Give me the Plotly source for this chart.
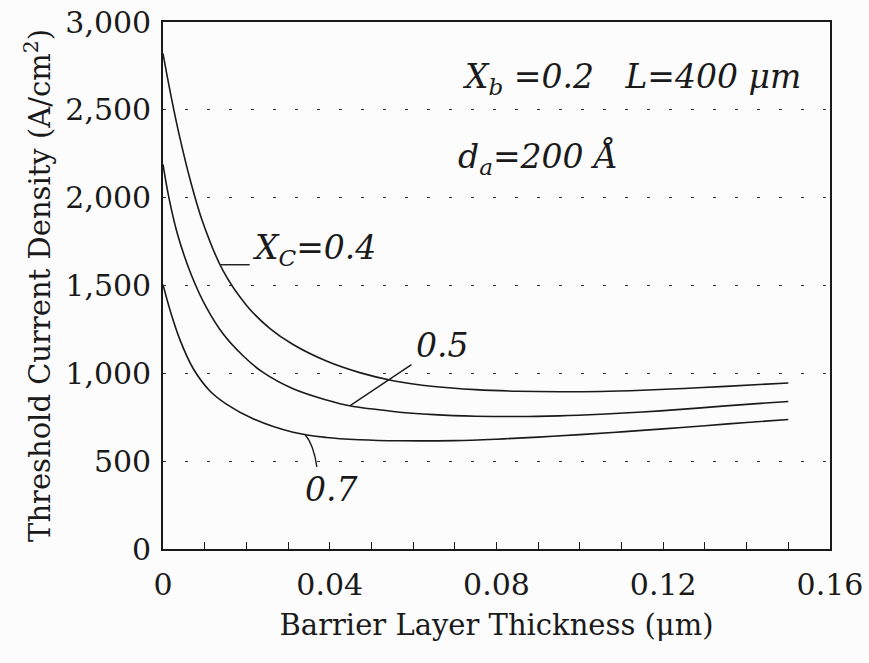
import numpy as np
import plotly.graph_objects as go

# Threshold current density vs. barrier layer thickness for three cladding compositions
x_04 = [0, 0.002, 0.004, 0.0065, 0.0095, 0.0144, 0.020, 0.0256, 0.0312, 0.0392, 0.0472,
        0.0552, 0.065, 0.075, 0.085, 0.095, 0.105, 0.115, 0.125, 0.135, 0.15]
y_04 = [2820, 2570, 2346, 2103, 1863, 1584, 1388, 1256, 1164, 1070, 1004,
        958, 925, 907, 898, 895, 897, 904, 914, 926, 945]

x_05 = [0, 0.0015, 0.0035, 0.0068, 0.0104, 0.0144, 0.0192, 0.024, 0.0312, 0.0392, 0.0448,
        0.0552, 0.065, 0.075, 0.085, 0.095, 0.105, 0.115, 0.125, 0.135, 0.15]
y_05 = [2190, 1990, 1790, 1560, 1375, 1225, 1100, 1005, 912, 848, 815,
        783, 765, 756, 754, 758, 767, 780, 796, 815, 840]

x_07 = [0, 0.002, 0.004, 0.0072, 0.0112, 0.0152, 0.0216, 0.0312, 0.0392, 0.0472, 0.0568,
        0.07, 0.08, 0.09, 0.10, 0.11, 0.12, 0.13, 0.14, 0.15]
y_07 = [1505, 1335, 1195, 1029, 901, 825, 742, 665, 635, 622, 616,
        617, 625, 637, 651, 667, 684, 702, 720, 737]

x_tickvals = [0, 0.04, 0.08, 0.12, 0.16]
x_ticktext = ["0", "0.04", "0.08", "0.12", "0.16"]
y_tickvals = [0, 500, 1000, 1500, 2000, 2500, 3000]

INK = "#1a1a1a"
SERIF = "DejaVu Serif"

fig = go.Figure()
for xs, ys, name in [(x_04, y_04, "0.4"), (x_05, y_05, "0.5"), (x_07, y_07, "0.7")]:
    fig.add_trace(go.Scatter(x=xs, y=ys, mode="lines", name=name,
                             line=dict(color=INK, width=1.6, shape="spline", smoothing=1.0),
                             showlegend=False, hoverinfo="skip"))

# leader lines from labels to curves
y_lead_04 = float(np.interp(0.0138, x_04, y_04))
fig.add_shape(type="line", x0=0.0138, y0=y_lead_04, x1=0.0208, y1=y_lead_04,
              line=dict(color=INK, width=1.4))
y_lead_05 = float(np.interp(0.0448, x_05, y_05))
fig.add_shape(type="line", x0=0.0448, y0=y_lead_05, x1=0.0596, y1=1050,
              line=dict(color=INK, width=1.4))
y_lead_07 = float(np.interp(0.034, x_07, y_07))
fig.add_shape(type="path",
              path=f"M 0.034,{y_lead_07} Q 0.0362,592 0.0369,467",
              line=dict(color=INK, width=1.4))

ann_font = dict(family=SERIF, size=33, color=INK)
fig.add_annotation(x=0.0712, y=2680, xref="x", yref="y", xanchor="left", yanchor="middle",
                   text="<i>X<sub>b</sub> =0.2 &nbsp; L=400 μm</i>", showarrow=False, font=ann_font)
fig.add_annotation(x=0.0703, y=2225, xref="x", yref="y", xanchor="left", yanchor="middle",
                   text="<i>d<sub>a</sub>=200 Å</i>", showarrow=False, font=ann_font)
fig.add_annotation(x=0.0208, y=1705, xref="x", yref="y", xanchor="left", yanchor="middle",
                   text="<i>X<sub>C</sub>=0.4</i>", showarrow=False, font=ann_font)
fig.add_annotation(x=0.0602, y=1161, xref="x", yref="y", xanchor="left", yanchor="middle",
                   text="<i>0.5</i>", showarrow=False, font=ann_font)
fig.add_annotation(x=0.0336, y=336, xref="x", yref="y", xanchor="left", yanchor="middle",
                   text="<i>0.7</i>", showarrow=False, font=ann_font)

fig.update_xaxes(range=[0, 0.16], tickvals=x_tickvals, ticktext=x_ticktext,
                 ticks="inside", ticklen=7, tickwidth=1.2, tickcolor=INK,
                 minor=dict(ticks="inside", ticklen=7, tickwidth=1.2, tickcolor=INK, dtick=0.01, tick0=0),
                 showline=True, linecolor=INK, linewidth=1.6, mirror=True,
                 showgrid=False, zeroline=False, ticklabelstandoff=8,
                 tickfont=dict(family=SERIF, size=30, color=INK),
                 title=dict(text="Barrier Layer Thickness (μm)", standoff=14,
                            font=dict(family=SERIF, size=29, color=INK)))
fig.update_yaxes(range=[0, 3000], tickvals=y_tickvals, tickformat=",d",
                 ticks="", showline=True, linecolor=INK, linewidth=1.6, mirror=True,
                 showgrid=True, gridcolor="#333333", gridwidth=1.3, griddash="3px,19px",
                 zeroline=False, ticklabelstandoff=4,
                 tickfont=dict(family=SERIF, size=30, color=INK),
                 title=dict(text="Threshold Current Density (A/cm<sup>2</sup>)", standoff=6,
                            font=dict(family=SERIF, size=29, color=INK)))

fig.update_layout(width=869, height=663,
                  margin=dict(l=163, r=39, t=22, b=114, autoexpand=False),
                  paper_bgcolor="#fcfcfc", plot_bgcolor="#fcfcfc")

fig.write_html("out.html")
